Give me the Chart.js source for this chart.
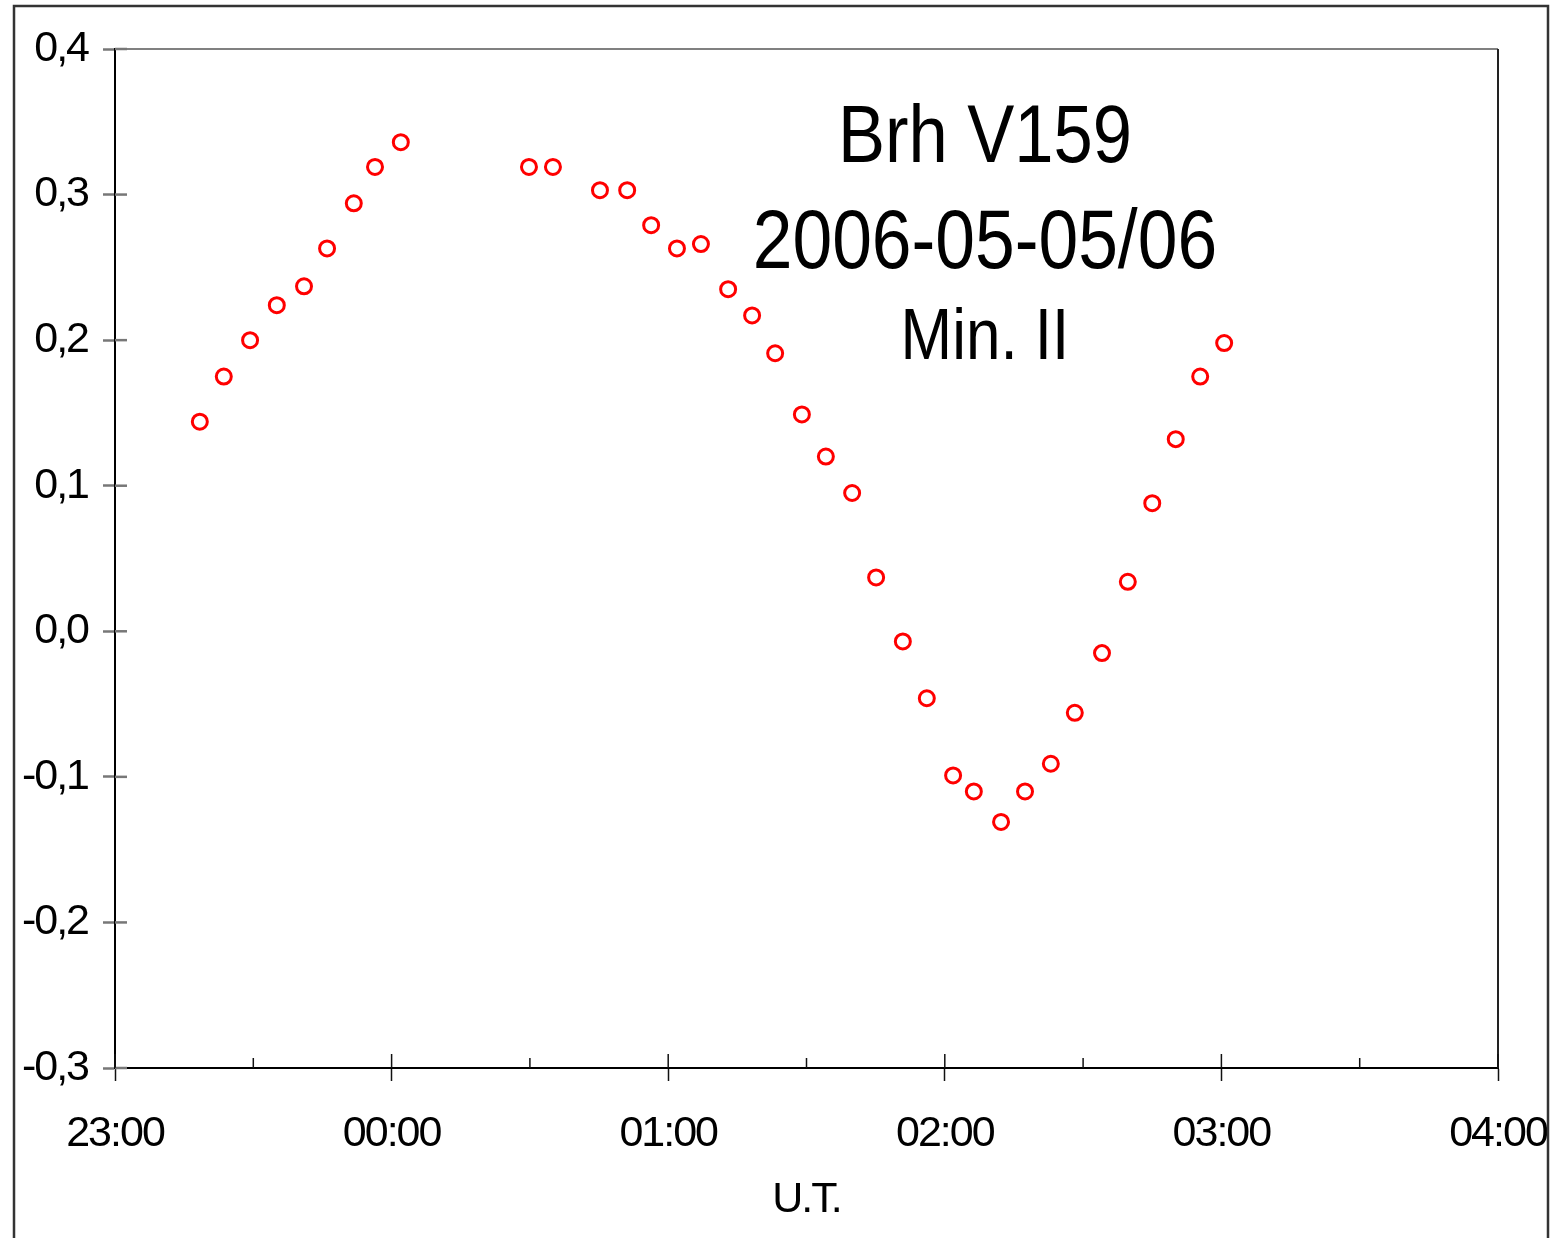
<!DOCTYPE html>
<html>
<head>
    <title>Brh V159</title>
    <script src="https://cdn.jsdelivr.net/npm/chart.js"></script>
    <style>
        body { margin: 0; background: #fff; }
        #wrap { width: 1562px; height: 1238px; }
    </style>
</head>
<body>
    <div id="wrap"><canvas id="lightCurve"></canvas></div>

    <script>
    // minutes after 23:00 UT
    const times = [18.4, 23.6, 29.3, 35.1, 41.0, 46.0, 51.8, 56.4, 62.0, 89.8, 95.0, 105.2, 111.1,
        116.3, 121.9, 127.1, 133.0, 138.2, 143.2, 149.0, 154.2, 159.9, 165.1, 170.9, 176.1, 181.8,
        186.3, 192.2, 197.4, 203.0, 208.2, 214.1, 219.7, 225.0, 230.1, 235.4, 240.6];
    const mags = [0.144, 0.175, 0.200, 0.224, 0.237, 0.263, 0.294, 0.319, 0.336, 0.319, 0.319, 0.303, 0.303,
        0.279, 0.263, 0.266, 0.235, 0.217, 0.191, 0.149, 0.120, 0.095, 0.037, -0.007, -0.046, -0.099,
        -0.110, -0.131, -0.110, -0.091, -0.056, -0.015, 0.034, 0.088, 0.132, 0.175, 0.198];

    const xTickLabels = ['23:00', '00:00', '01:00', '02:00', '03:00', '04:00'];
    const yTickLabels = ['-0,3', '-0,2', '-0,1', '0,0', '0,1', '0,2', '0,3', '0,4'];
    const titleLines = ['Brh V159', '2006-05-05/06', 'Min. II'];

    const FONT = '"Liberation Sans", Arial, sans-serif';

    // frame, plot border, inner tick halves, title block
    const extras = {
        id: 'extras',
        beforeDraw(chart) {
            chart.ctx.letterSpacing = '-2px';
        },
        afterDraw(chart) {
            const ctx = chart.ctx;
            const a = chart.chartArea;
            const xs = chart.scales.x, ys = chart.scales.y;
            ctx.save();
            ctx.letterSpacing = '0px';

            // outer frame
            ctx.strokeStyle = '#333';
            ctx.lineWidth = 2.5;
            ctx.beginPath();
            ctx.moveTo(14, 1240);
            ctx.lineTo(14, 6);
            ctx.lineTo(1548, 6);
            ctx.lineTo(1548, 1240);
            ctx.stroke();

            // top + right border of plot
            ctx.lineWidth = 2;
            ctx.strokeStyle = '#808080';
            ctx.beginPath();
            ctx.moveTo(a.left, a.top);
            ctx.lineTo(a.right, a.top);
            ctx.stroke();
            ctx.strokeStyle = '#222';
            ctx.beginPath();
            ctx.moveTo(a.right, a.top);
            ctx.lineTo(a.right, a.bottom);
            ctx.stroke();

            // inner y ticks
            ctx.strokeStyle = '#777';
            ctx.lineWidth = 2.5;
            ys.ticks.forEach(t => {
                const y = ys.getPixelForValue(t.value);
                ctx.beginPath();
                ctx.moveTo(a.left, y);
                ctx.lineTo(a.left + 12, y);
                ctx.stroke();
            });

            // inner x ticks (major and minor)
            ctx.strokeStyle = '#111';
            ctx.lineWidth = 1.5;
            xs.ticks.forEach(t => {
                const x = xs.getPixelForValue(t.value);
                const len = t.value % 60 === 0 ? 14 : 10;
                ctx.beginPath();
                ctx.moveTo(x, a.bottom);
                ctx.lineTo(x, a.bottom - len);
                ctx.stroke();
            });

            // title text, slightly condensed
            const cx = a.left + (a.right - a.left) * 0.629;
            const sizes = [82, 83, 72];
            const bases = [162, 268, 359];
            ctx.fillStyle = '#000';
            ctx.textAlign = 'center';
            ctx.textBaseline = 'alphabetic';
            titleLines.forEach((line, i) => {
                ctx.save();
                ctx.translate(cx, bases[i]);
                ctx.scale(0.86, 1);
                ctx.font = sizes[i] + 'px ' + FONT;
                ctx.fillText(line, 0, 0);
                ctx.restore();
            });
            ctx.restore();
        }
    };

    new Chart(document.getElementById('lightCurve'), {
        type: 'scatter',
        data: {
            datasets: [{
                label: 'Brh V159',
                data: times.map((t, i) => ({ x: t, y: mags[i] })),
                pointStyle: 'circle',
                pointRadius: 7.5,
                pointHoverRadius: 7.5,
                pointBorderWidth: 3,
                borderColor: '#ff0000',
                backgroundColor: 'rgba(0,0,0,0)'
            }]
        },
        options: {
            responsive: true,
            maintainAspectRatio: false,
            devicePixelRatio: 1,
            animation: false,
            layout: { padding: { left: 0, top: 49, right: 64, bottom: 0 } },
            plugins: {
                legend: { display: false },
                tooltip: { enabled: false }
            },
            scales: {
                x: {
                    type: 'linear',
                    min: 0,
                    max: 300,
                    afterFit: s => { s.height = 170; s.paddingLeft = 0; s.paddingRight = 0; },
                    grid: {
                        drawOnChartArea: false,
                        tickLength: 13,
                        tickWidth: 1.5,
                        tickColor: c => (c.tick && c.tick.value % 60 === 0) ? '#111' : 'rgba(0,0,0,0)'
                    },
                    border: { display: true, color: '#000', width: 2 },
                    ticks: {
                        stepSize: 30,
                        autoSkip: false,
                        maxRotation: 0,
                        padding: 27,
                        color: '#000',
                        font: { family: FONT, size: 43 },
                        callback: v => v % 60 === 0 ? xTickLabels[v / 60] : ''
                    },
                    title: {
                        display: true,
                        text: 'U.T.',
                        color: '#000',
                        font: { family: FONT, size: 43 },
                        padding: { top: 0, bottom: 12 }
                    }
                },
                y: {
                    min: -0.3,
                    max: 0.4,
                    afterFit: s => { s.width = 115; s.paddingTop = 0; s.paddingBottom = 0; },
                    grid: {
                        drawOnChartArea: false,
                        tickLength: 12,
                        tickWidth: 2.5,
                        tickColor: '#777'
                    },
                    border: { display: true, color: '#000', width: 2 },
                    ticks: {
                        stepSize: 0.1,
                        padding: 15,
                        color: '#000',
                        font: { family: FONT, size: 43 },
                        callback: v => yTickLabels[Math.round((v + 0.3) * 10)]
                    }
                }
            }
        },
        plugins: [extras]
    });
    </script>
</body>
</html>
